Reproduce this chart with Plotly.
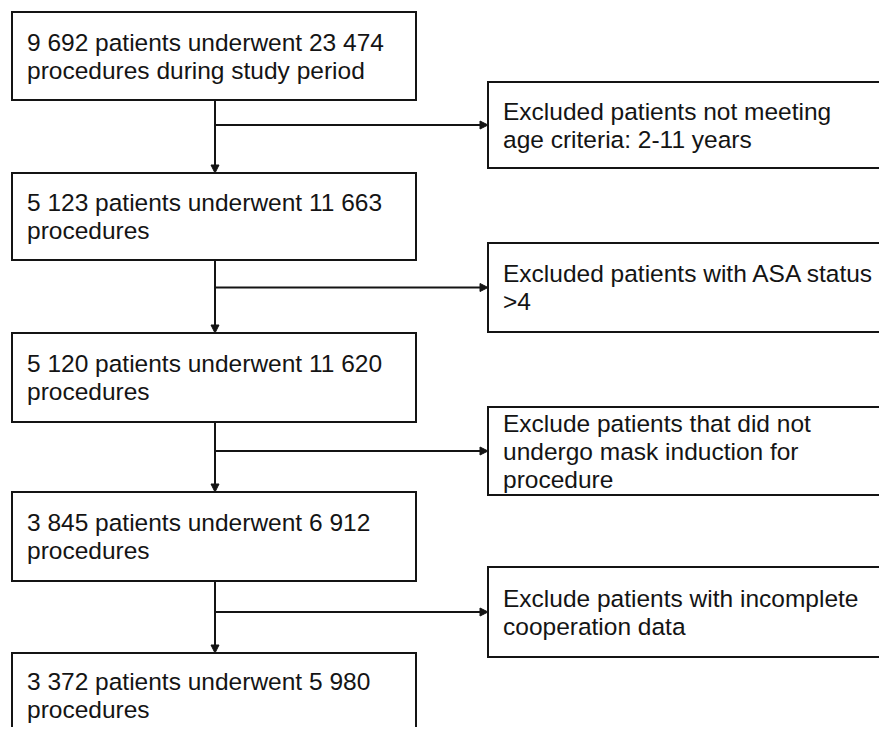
import plotly.graph_objects as go

# ---- content (data) ----
main_lines = [
    ["9 692 patients underwent 23 474", "procedures during study period"],
    ["5 123 patients underwent 11 663", "procedures"],
    ["5 120 patients underwent 11 620", "procedures"],
    ["3 845 patients underwent 6 912", "procedures"],
    ["3 372 patients underwent 5 980", "procedures"],
]
excl_lines = [
    ["Excluded patients not meeting", "age criteria: 2-11 years"],
    ["Excluded patients with ASA status", ">4"],
    ["Exclude patients that did not", "undergo mask induction for", "procedure"],
    ["Exclude patients with incomplete", "cooperation data"],
]

# ---- layout (positions, in page-pixel-like axis units) ----
W, H = 887, 735
BODY_MARGIN = 8  # default HTML body margin; the figure starts 8px in
main_left, main_right = 12, 416
main_top = [12, 173, 333, 492, 653]
main_bottom = [100, 260, 422, 581, 737]
excl_left, excl_right = 488, 885
excl_top = [82, 243, 407, 567]
excl_bottom = [168, 332, 495, 657]
spine_x = 215
text_pad = 13
line_gap = 28
font_size = 24.5
ink = "#141414"

fig = go.Figure()
shapes = []
annotations = []


def box(x0, y0, x1, y1):
    shapes.append(dict(type="rect", xref="x", yref="y", x0=x0, y0=y0, x1=x1, y1=y1,
                       line=dict(color=ink, width=2), fillcolor="rgba(0,0,0,0)"))


def line(x0, y0, x1, y1):
    shapes.append(dict(type="line", xref="x", yref="y", x0=x0, y0=y0, x1=x1, y1=y1,
                       line=dict(color=ink, width=2)))


def head_down(x, y):
    shapes.append(dict(type="path", xref="x", yref="y",
                       path=f"M {x-4},{y-8} L {x+4},{y-8} L {x},{y} Z",
                       fillcolor=ink, line=dict(color=ink, width=1)))


def head_right(x, y):
    shapes.append(dict(type="path", xref="x", yref="y",
                       path=f"M {x-8},{y-4} L {x-8},{y+4} L {x},{y} Z",
                       fillcolor=ink, line=dict(color=ink, width=1)))


def text_block(x, y_center, lines):
    n = len(lines)
    for i, t in enumerate(lines):
        y = y_center + (i - (n - 1) / 2) * line_gap
        annotations.append(dict(x=x, y=y, xref="x", yref="y", text=t, showarrow=False,
                                xanchor="left", yanchor="middle",
                                font=dict(family="Liberation Sans, Arial, Helvetica, sans-serif",
                                          size=font_size, color=ink)))


# main boxes
for lines, t, b in zip(main_lines, main_top, main_bottom):
    box(main_left, t, main_right, b)
    text_block(main_left + text_pad, (t + b) / 2, lines)

# exclusion boxes + branches
for lines, t, b in zip(excl_lines, excl_top, excl_bottom):
    box(excl_left, t, excl_right, b)
    text_block(excl_left + text_pad, (t + b) / 2, lines)
    yc = (t + b) / 2
    line(spine_x, yc, excl_left - 6, yc)
    head_right(excl_left, yc)

# vertical connectors
for i in range(len(main_top) - 1):
    line(spine_x, main_bottom[i], spine_x, main_top[i + 1] - 6)
    head_down(spine_x, main_top[i + 1])

# keep the page from scrolling vertically (body margin top + bottom)
fig_h = H - 2 * BODY_MARGIN
fig_w = W - BODY_MARGIN

fig.update_layout(
    width=fig_w, height=fig_h, autosize=False,
    margin=dict(l=0, r=0, t=0, b=0),
    paper_bgcolor="white", plot_bgcolor="white",
    xaxis=dict(range=[BODY_MARGIN, BODY_MARGIN + fig_w], visible=False, fixedrange=True),
    yaxis=dict(range=[BODY_MARGIN + fig_h, BODY_MARGIN], visible=False, fixedrange=True),
    shapes=shapes, annotations=annotations, showlegend=False,
)

fig.write_html("out.html")
